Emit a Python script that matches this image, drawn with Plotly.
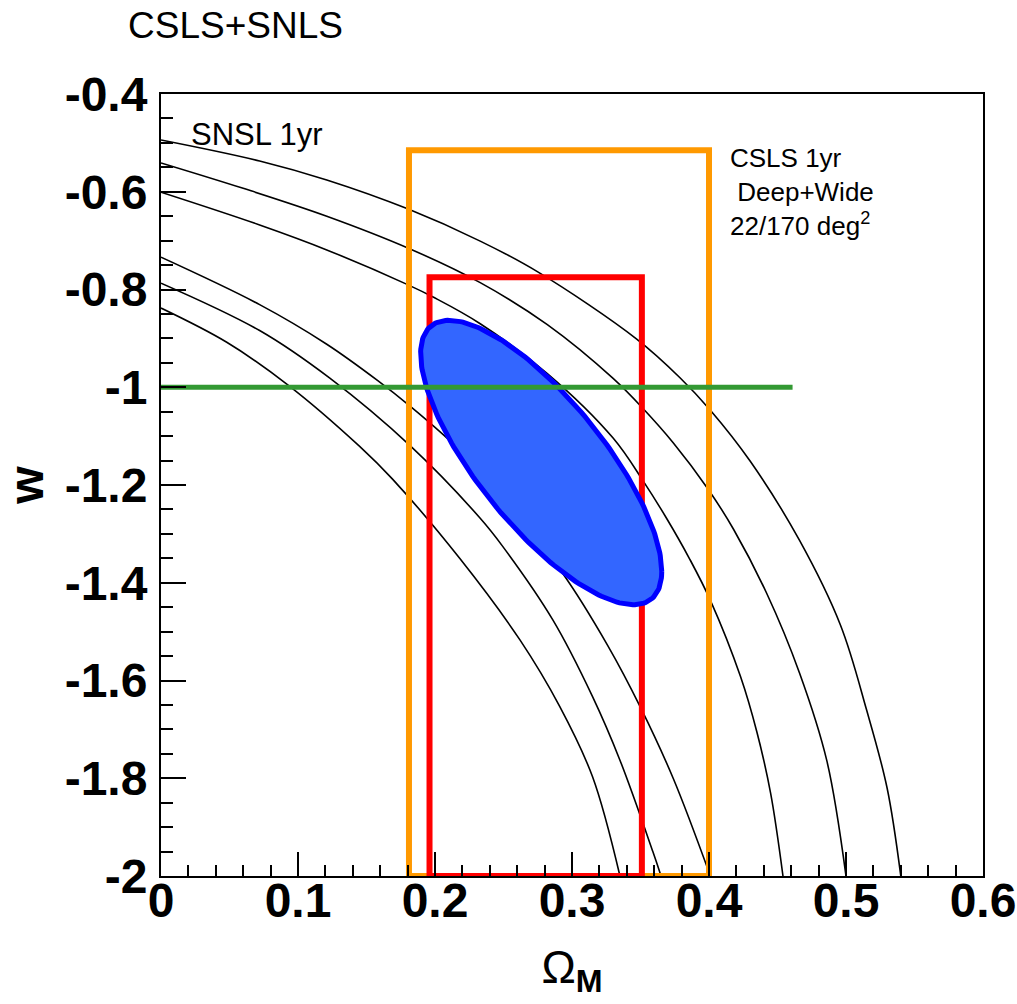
import numpy as np
import plotly.graph_objects as go

# ---- SNLS 1yr contours (Omega_M, w) ----
C1_OM = [0.0, 0.072, 0.121, 0.180, 0.233, 0.275, 0.347, 0.379, 0.401, 0.430, 0.466, 0.496, 0.515, 0.530, 0.540]
C1_W = [-0.494, -0.537, -0.576, -0.635, -0.701, -0.764, -0.901, -0.981, -1.047, -1.151, -1.313, -1.487, -1.660, -1.820, -2.0]

C2_OM = [0.0, 0.060, 0.121, 0.181, 0.233, 0.282, 0.330, 0.352, 0.374, 0.399, 0.418, 0.442, 0.466, 0.486, 0.500]
C2_W = [-0.541, -0.593, -0.650, -0.716, -0.786, -0.872, -0.982, -1.044, -1.114, -1.207, -1.291, -1.421, -1.584, -1.764, -2.0]

C3_OM = [0.0, 0.072, 0.121, 0.180, 0.199, 0.233, 0.282, 0.330, 0.352, 0.369, 0.386, 0.401, 0.423, 0.435, 0.445, 0.454]
C3_W = [-0.601, -0.668, -0.719, -0.790, -0.816, -0.870, -0.972, -1.104, -1.192, -1.268, -1.352, -1.436, -1.592, -1.706, -1.831, -2.0]

C4_OM = [0.0, 0.072, 0.121, 0.158, 0.182, 0.206, 0.233, 0.293, 0.326, 0.350, 0.374, 0.401]
C4_W = [-0.734, -0.831, -0.912, -0.986, -1.039, -1.097, -1.170, -1.380, -1.528, -1.655, -1.801, -2.0]

C5_OM = [0.0, 0.072, 0.123, 0.182, 0.233, 0.249, 0.286, 0.315, 0.335, 0.359, 0.365]
C5_W = [-0.787, -0.884, -0.981, -1.120, -1.268, -1.324, -1.476, -1.633, -1.763, -1.950, -2.0]

C6_OM = [0.0, 0.048, 0.093, 0.145, 0.169, 0.218, 0.262, 0.291, 0.315, 0.335]
C6_W = [-0.838, -0.908, -0.996, -1.121, -1.188, -1.350, -1.517, -1.653, -1.797, -2.0]

CONTOURS = [(C1_OM, C1_W), (C2_OM, C2_W), (C3_OM, C3_W),
            (C4_OM, C4_W), (C5_OM, C5_W), (C6_OM, C6_W)]

# ---- CSLS boxes (Omega_M range, w range) ----
ORANGE_OM = [0.181, 0.400]
ORANGE_W = [-2.0, -0.515]
RED_OM = [0.196, 0.351]
RED_W = [-2.0, -0.775]

# ---- combined ellipse: centre, 1-sigma extents, correlation ----
ELL_CENTER = [0.2775, -1.154]
ELL_SIGMA = [0.088, 0.291]
ELL_RHO = -0.764

# ---- w = -1 reference line ----
WLINE_OM = [0.0, 0.461]
WLINE_W = [-1.0, -1.0]

# ---- axes ----
X_TICK_VALS = [0, 0.1, 0.2, 0.3, 0.4, 0.5, 0.6]
X_TICK_TEXT = ["0", "0.1", "0.2", "0.3", "0.4", "0.5", "0.6"]
Y_TICK_VALS = [-0.4, -0.6, -0.8, -1.0, -1.2, -1.4, -1.6, -1.8, -2.0]
Y_TICK_TEXT = ["-0.4", "-0.6", "-0.8", "-1", "-1.2", "-1.4", "-1.6", "-1.8", "-2"]

FONT = "Liberation Sans, Arial, Helvetica, sans-serif"

W_FIG, H_FIG = 1017, 1004

fig = go.Figure()

for om, w in CONTOURS:
    fig.add_trace(go.Scatter(x=om, y=w, mode="lines",
                             line=dict(color="black", width=1.6, shape="spline", smoothing=1.0),
                             hoverinfo="skip", showlegend=False))


def box(om, w):
    return ([om[0], om[1], om[1], om[0], om[0]], [w[0], w[0], w[1], w[1], w[0]])


bx, by = box(ORANGE_OM, ORANGE_W)
fig.add_trace(go.Scatter(x=bx, y=by, mode="lines", line=dict(color="#FF9900", width=6),
                         showlegend=False, hoverinfo="skip"))
bx, by = box(RED_OM, RED_W)
fig.add_trace(go.Scatter(x=bx, y=by, mode="lines", line=dict(color="#FF0000", width=6),
                         showlegend=False, hoverinfo="skip"))

t = np.linspace(0, 2 * np.pi, 241)
ex = ELL_CENTER[0] + ELL_SIGMA[0] * np.cos(t)
ey = ELL_CENTER[1] + ELL_SIGMA[1] * (ELL_RHO * np.cos(t) + np.sqrt(1 - ELL_RHO ** 2) * np.sin(t))
fig.add_trace(go.Scatter(x=ex, y=ey, mode="lines", fill="toself", fillcolor="#3366FF",
                         line=dict(color="#0000FF", width=5), showlegend=False, hoverinfo="skip"))

fig.add_trace(go.Scatter(x=WLINE_OM, y=WLINE_W, mode="lines", line=dict(color="#339933", width=5),
                         showlegend=False, hoverinfo="skip"))

# plot area in page pixels: x 161..983, y 94..876
L, T = 161, 94
R = W_FIG - 983
B = H_FIG - 876

fig.update_layout(
    width=W_FIG, height=H_FIG,
    margin=dict(l=L, r=R, t=T, b=B),
    paper_bgcolor="white", plot_bgcolor="white",
    font=dict(family=FONT, color="black"),
    title=dict(text="CSLS+SNLS", font=dict(size=37, family=FONT, color="black"),
               xref="container", x=128 / W_FIG, xanchor="left",
               yref="container", y=1 - 25 / H_FIG, yanchor="middle",
               automargin=False),
    showlegend=False,
)

fig.update_xaxes(
    range=[0, 0.6], showgrid=False, zeroline=False, automargin=False,
    showline=True, linecolor="black", linewidth=2, mirror=True,
    tickmode="array", tickvals=X_TICK_VALS, ticktext=X_TICK_TEXT,
    ticks="inside", ticklen=24, tickwidth=1.5, tickcolor="black",
    tickfont=dict(size=48, family=FONT, color="black", weight="bold"),
    ticklabelstandoff=-19,
    minor=dict(tickmode="linear", tick0=0, dtick=0.02, ticks="inside", ticklen=11,
               tickwidth=1.5, tickcolor="black", showgrid=False),
    title=dict(text="Ω<sub><b>M</b></sub>", font=dict(size=46, family=FONT, color="black"),
               standoff=25),
)

fig.update_yaxes(
    range=[-2, -0.4], showgrid=False, zeroline=False, automargin=False,
    showline=True, linecolor="black", linewidth=2, mirror=True,
    tickmode="array", tickvals=Y_TICK_VALS, ticktext=Y_TICK_TEXT,
    ticks="inside", ticklen=25, tickwidth=1.5, tickcolor="black",
    tickfont=dict(size=48, family=FONT, color="black", weight="bold"),
    ticklabelstandoff=2,
    minor=dict(tickmode="linear", tick0=-2, dtick=0.05, ticks="inside", ticklen=12,
               tickwidth=1.5, tickcolor="black", showgrid=False),
    title=dict(text="<b>w</b>", font=dict(size=48, family=FONT, color="black"),
               standoff=12),
)

fig.add_annotation(text="SNSL 1yr", xref="paper", yref="paper",
                   x=(189 - 161) / 822, y=(876 - 135) / 782,
                   xanchor="left", yanchor="middle", showarrow=False,
                   font=dict(size=31, family=FONT, color="black"))

fig.add_annotation(text="CSLS 1yr<br> Deep+Wide<br>22/170 deg<sup>2</sup>",
                   xref="paper", yref="paper",
                   x=(728 - 161) / 822, y=(876 - 141) / 782,
                   xanchor="left", yanchor="top", align="left", showarrow=False,
                   font=dict(size=26, family=FONT, color="black"))

# remove the default 8 px body margin so the figure fills the window exactly
fig.write_html("out.html",
               config={"displayModeBar": False},
               post_script="document.body.style.margin='0px';document.body.style.padding='0px';")
